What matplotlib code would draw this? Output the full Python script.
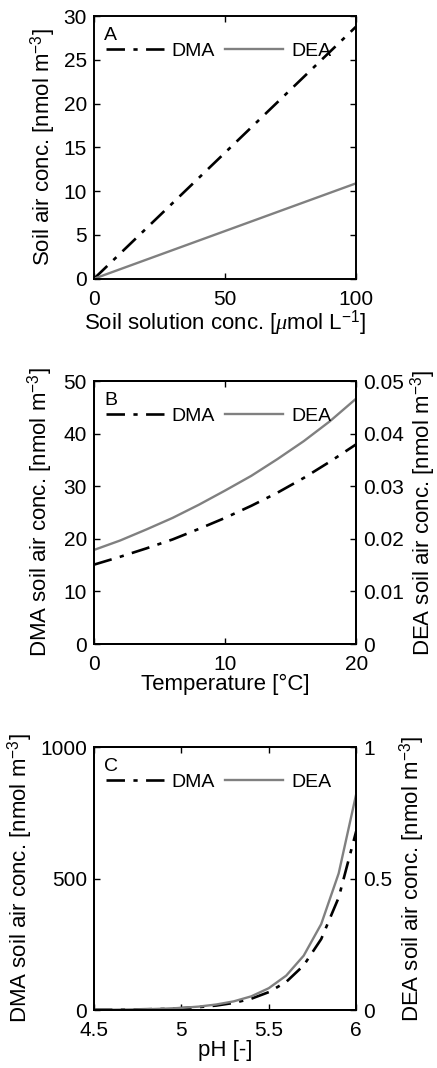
import matplotlib
matplotlib.use("Agg")
import matplotlib.pyplot as plt

plt.rcParams['font.family'] = ['Liberation Sans', 'DejaVu Sans']
plt.rcParams['mathtext.fontset'] = 'custom'
plt.rcParams['mathtext.rm'] = 'Liberation Sans'
plt.rcParams['mathtext.it'] = 'Liberation Serif:italic'
plt.rcParams['font.size'] = 15

# panel A: soil solution conc. vs soil air conc.
conc_x = [0, 100]
conc_dma = [0, 28.8]
conc_dea = [0, 10.9]

# panel B: temperature
temp_x = [0, 2, 4, 6, 8, 10, 12, 14, 16, 18, 20]
temp_dma = [15.1, 16.6, 18.2, 19.9, 21.9, 24.0, 26.3, 28.8, 31.6, 34.7, 38.0]
temp_dea = [0.0179, 0.0197, 0.0218, 0.0240, 0.0265, 0.0292, 0.0320, 0.0352, 0.0386, 0.0424, 0.0467]

# panel C: pH
ph_x = [4.5, 4.6, 4.7, 4.8, 4.9, 5.0, 5.1, 5.2, 5.3, 5.4, 5.5, 5.6, 5.7, 5.8, 5.9, 6.0]
ph_dma = [1, 1, 2, 3, 4, 7, 11, 17, 27, 43, 68, 107, 170, 270, 428, 680]
ph_dea = [0.001, 0.001, 0.002, 0.003, 0.005, 0.008, 0.013, 0.021, 0.033, 0.052,
          0.083, 0.131, 0.207, 0.327, 0.520, 0.821]

GREY = '#808080'
ylab = 'soil air conc. [nmol m$^{-3}$]'
LAB = 16
TICK = 15
DASH = (7, 3.2, 1.6, 3.2)


def style(ax, right=True):
    ax.tick_params(direction='in', length=4, width=1, top=True, right=right,
                   labelsize=TICK, pad=5)
    ax.tick_params(axis='x', pad=8)
    for s in ax.spines.values():
        s.set_linewidth(1.4)


def add_legend(ax, h1, h2, letter):
    ax.text(0.04, 0.925, letter, transform=ax.transAxes, fontsize=14,
            ha='left', va='center')
    ax.legend([h1, h2], ['DMA', 'DEA'], ncol=2, frameon=False, loc='center left',
              bbox_to_anchor=(0.045, 0.868), borderpad=0, borderaxespad=0,
              handlelength=3.0, handletextpad=0.4, columnspacing=0.5, fontsize=14)


fig = plt.figure(figsize=(4.37, 10.68), dpi=100)

# A
ax1 = fig.add_axes([0.215, 0.739, 0.600, 0.246])
h1, = ax1.plot(conc_x, conc_dma, color='black', linestyle='-.', linewidth=1.9,
               dashes=DASH)
h2, = ax1.plot(conc_x, conc_dea, color=GREY, linewidth=1.7)
ax1.set_xlim(0, 100)
ax1.set_ylim(0, 30)
ax1.set_xticks([0, 50, 100])
ax1.set_yticks([0, 5, 10, 15, 20, 25, 30])
ax1.set_xlabel('Soil solution conc. [$\\mu$mol L$^{-1}$]', fontsize=LAB, labelpad=0)
ax1.set_ylabel('Soil air conc. [nmol m$^{-3}$]', fontsize=LAB, labelpad=4)
style(ax1)
add_legend(ax1, h1, h2, 'A')

# B
ax2 = fig.add_axes([0.215, 0.397, 0.600, 0.246])
ax2r = ax2.twinx()
h1, = ax2.plot(temp_x, temp_dma, color='black', linestyle='-.', linewidth=1.9,
               dashes=DASH)
h2, = ax2r.plot(temp_x, temp_dea, color=GREY, linewidth=1.7)
ax2.set_xlim(0, 20)
ax2.set_ylim(0, 50)
ax2r.set_ylim(0, 0.05)
ax2.set_xticks([0, 10, 20])
ax2.set_yticks([0, 10, 20, 30, 40, 50])
ax2r.set_yticks([0, 0.01, 0.02, 0.03, 0.04, 0.05])
ax2r.set_yticklabels(['0', '0.01', '0.02', '0.03', '0.04', '0.05'])
ax2.set_xlabel('Temperature [°C]', fontsize=LAB, labelpad=0)
ax2.set_ylabel('DMA ' + ylab, fontsize=LAB, labelpad=6)
ax2r.set_ylabel('DEA ' + ylab, fontsize=LAB, rotation=90, labelpad=3)
style(ax2, right=False)
style(ax2r)
ax2r.tick_params(left=False, top=False)
add_legend(ax2r, h1, h2, 'B')

# C
ax3 = fig.add_axes([0.215, 0.0543, 0.600, 0.246])
ax3r = ax3.twinx()
h1, = ax3.plot(ph_x, ph_dma, color='black', linestyle='-.', linewidth=1.9,
               dashes=DASH)
h2, = ax3r.plot(ph_x, ph_dea, color=GREY, linewidth=1.7)
ax3.set_xlim(4.5, 6)
ax3.set_ylim(0, 1000)
ax3r.set_ylim(0, 1)
ax3.set_xticks([4.5, 5, 5.5, 6])
ax3.set_xticklabels(['4.5', '5', '5.5', '6'])
ax3.set_yticks([0, 500, 1000])
ax3r.set_yticks([0, 0.5, 1])
ax3r.set_yticklabels(['0', '0.5', '1'])
ax3.set_xlabel('pH [-]', fontsize=LAB, labelpad=0)
ax3.set_ylabel('DMA ' + ylab, fontsize=LAB, labelpad=4)
ax3r.set_ylabel('DEA ' + ylab, fontsize=LAB, rotation=90, labelpad=4)
style(ax3, right=False)
style(ax3r)
ax3r.tick_params(left=False, top=False)
add_legend(ax3r, h1, h2, 'C')

fig.savefig('out.png', dpi=100)
